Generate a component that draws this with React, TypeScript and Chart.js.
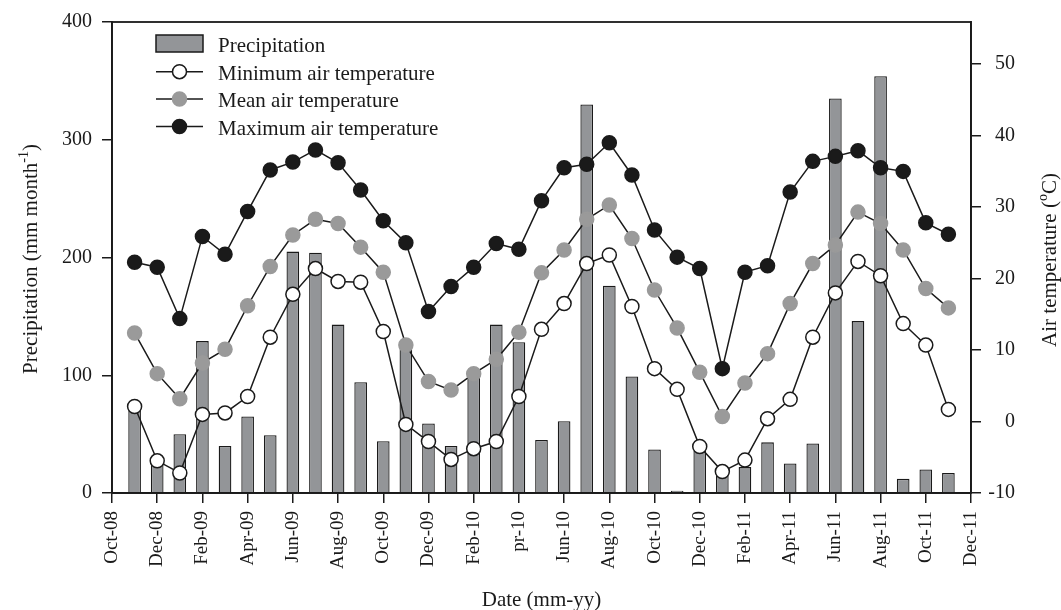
import React, { useEffect, useRef } from "react";
import { Chart, registerables } from "chart.js";

Chart.register(...registerables);

// Monthly data, Nov-08 .. Nov-11 (x position = month index, Oct-08 = 0)
const months = [
  "Nov-08", "Dec-08", "Jan-09", "Feb-09", "Mar-09", "Apr-09", "May-09", "Jun-09", "Jul-09", "Aug-09", "Sep-09", "Oct-09",
  "Nov-09", "Dec-09", "Jan-10", "Feb-10", "Mar-10", "Apr-10", "May-10", "Jun-10", "Jul-10", "Aug-10", "Sep-10", "Oct-10",
  "Nov-10", "Dec-10", "Jan-11", "Feb-11", "Mar-11", "Apr-11", "May-11", "Jun-11", "Jul-11", "Aug-11", "Sep-11", "Oct-11",
  "Nov-11",
];

const xTickLabels = [
  "Oct-08", "Dec-08", "Feb-09", "Apr-09", "Jun-09", "Aug-09", "Oct-09", "Dec-09", "Feb-10", "pr-10",
  "Jun-10", "Aug-10", "Oct-10", "Dec-10", "Feb-11", "Apr-11", "Jun-11", "Aug-11", "Oct-11", "Dec-11",
];

const precipitation = [
  73, 25, 50, 129, 40, 65, 49, 205, 204, 143, 94, 44,
  125, 59, 40, 101, 143, 128, 45, 61, 330, 176, 99, 37,
  2, 36, 22, 22, 43, 25, 42, 335, 146, 354, 12, 20, 17,
];

const minTemp = [
  2.1, -5.5, -7.2, 1.0, 1.2, 3.5, 11.8, 17.8, 21.4, 19.6, 19.5, 12.6,
  -0.4, -2.8, -5.3, -3.8, -2.8, 3.5, 12.9, 16.5, 22.1, 23.3, 16.1, 7.4,
  4.5, -3.5, -7.0, -5.4, 0.4, 3.1, 11.8, 18.0, 22.4, 20.4, 13.7, 10.7, 1.7,
];

const meanTemp = [
  12.4, 6.7, 3.2, 8.2, 10.1, 16.2, 21.7, 26.1, 28.3, 27.7, 24.4, 20.9,
  10.7, 5.6, 4.4, 6.7, 8.7, 12.5, 20.8, 24.0, 28.3, 30.3, 25.6, 18.4,
  13.1, 6.9, 0.7, 5.4, 9.5, 16.5, 22.1, 24.7, 29.3, 27.7, 24.0, 18.6, 15.9,
];

const maxTemp = [
  22.3, 21.6, 14.4, 25.9, 23.4, 29.4, 35.2, 36.3, 38.0, 36.2, 32.4, 28.1,
  25.0, 15.4, 18.9, 21.6, 24.9, 24.1, 30.9, 35.5, 36.0, 39.0, 34.5, 26.8,
  23.0, 21.4, 7.4, 20.9, 21.8, 32.1, 36.4, 37.1, 37.9, 35.5, 35.0, 27.8, 26.2,
];

const FONT = "'Liberation Serif', 'Times New Roman', serif";
const INK = "#1a1a1a";
const BAR_GRAY = "#939598";
const DOT_GRAY = "#9a9a9a";

type Part = { text: string; sup?: boolean };

function drawParts(ctx: CanvasRenderingContext2D, parts: Part[], size: number) {
  const supSize = Math.round(size * 0.65);
  let total = 0;
  const widths = parts.map((p) => {
    ctx.font = `${p.sup ? supSize : size}px ${FONT}`;
    const w = ctx.measureText(p.text).width;
    total += w;
    return w;
  });
  let x = -total / 2;
  parts.forEach((p, i) => {
    ctx.font = `${p.sup ? supSize : size}px ${FONT}`;
    ctx.fillText(p.text, x, p.sup ? -size * 0.42 : 0);
    x += widths[i];
  });
}

export default function App() {
  const ref = useRef<HTMLCanvasElement>(null);

  useEffect(() => {
    if (!ref.current) return;
    const pts = (arr: number[]) => arr.map((v, i) => ({ x: months.indexOf(months[i]) + 1, y: v }));

    const decor = {
      id: "decor",
      afterDraw(chart: any) {
        const { ctx, chartArea: a } = chart;
        ctx.save();
        // frame
        ctx.strokeStyle = INK;
        ctx.lineWidth = 1.8;
        ctx.strokeRect(a.left, a.top, a.right - a.left, a.bottom - a.top);

        ctx.fillStyle = INK;
        ctx.textAlign = "left";
        ctx.textBaseline = "alphabetic";
        // left title
        ctx.save();
        ctx.translate(36.5, (a.top + a.bottom) / 2 + 1.5);
        ctx.rotate(-Math.PI / 2);
        drawParts(ctx, [
          { text: "Precipitation (mm month" },
          { text: "-1", sup: true },
          { text: ")" },
        ], 21);
        ctx.restore();
        // right title
        ctx.save();
        ctx.translate(1055.5, (a.top + a.bottom) / 2 + 2.5);
        ctx.rotate(-Math.PI / 2);
        drawParts(ctx, [
          { text: "Air temperature (" },
          { text: "o", sup: true },
          { text: "C)" },
        ], 21);
        ctx.restore();
        // x title
        ctx.save();
        ctx.translate((a.left + a.right) / 2, 606);
        drawParts(ctx, [{ text: "Date (mm-yy)" }], 21);
        ctx.restore();

        // legend
        const rows = [43.5, 71.7, 99, 126.5];
        const x0 = 156, x1 = 203, xc = (x0 + x1) / 2, tx = 218;
        chart.data.datasets.forEach((ds: any, i: number) => {
          const y = rows[i];
          if (ds.type === "bar") {
            ctx.fillStyle = ds.backgroundColor;
            ctx.fillRect(x0, y - 8.5, x1 - x0, 17);
            ctx.strokeStyle = ds.borderColor;
            ctx.lineWidth = 1.5;
            ctx.strokeRect(x0, y - 8.5, x1 - x0, 17);
          } else {
            ctx.strokeStyle = ds.borderColor;
            ctx.lineWidth = ds.borderWidth;
            ctx.beginPath();
            ctx.moveTo(x0, y);
            ctx.lineTo(x1, y);
            ctx.stroke();
            ctx.beginPath();
            ctx.arc(xc, y, ds.pointRadius, 0, Math.PI * 2);
            ctx.fillStyle = ds.pointBackgroundColor;
            ctx.fill();
            ctx.strokeStyle = ds.pointBorderColor;
            ctx.lineWidth = ds.pointBorderWidth;
            ctx.stroke();
          }
          ctx.fillStyle = INK;
          ctx.font = `21px ${FONT}`;
          ctx.textAlign = "left";
          ctx.fillText(ds.label, tx, y + 8.3);
        });
        ctx.restore();
      },
    };

    const lineDs = (label: string, data: number[], fill: string, stroke: string, order: number) => ({
      type: "line" as const,
      label,
      data: pts(data),
      yAxisID: "y2",
      borderColor: INK,
      borderWidth: 1.5,
      pointRadius: 7,
      pointBorderWidth: 1.5,
      pointBackgroundColor: fill,
      pointBorderColor: stroke,
      pointHoverRadius: 7,
      tension: 0,
      order,
    });

    const chart = new Chart(ref.current, {
      type: "bar",
      data: {
        datasets: [
          {
            type: "bar",
            label: "Precipitation",
            data: pts(precipitation),
            yAxisID: "y",
            backgroundColor: BAR_GRAY,
            borderColor: INK,
            borderWidth: 1.3,
            barPercentage: 0.56,
            categoryPercentage: 1,
            order: 10,
          } as any,
          lineDs("Minimum air temperature", minTemp, "#ffffff", INK, 1),
          lineDs("Mean air temperature", meanTemp, DOT_GRAY, DOT_GRAY, 2),
          lineDs("Maximum air temperature", maxTemp, INK, INK, 3),
        ],
      },
      options: {
        animation: false,
        responsive: true,
        maintainAspectRatio: false,
        layout: { padding: { top: 22, right: 46, left: 0, bottom: 0 } },
        plugins: { legend: { display: false }, tooltip: { enabled: false } },
        events: [],
        scales: {
          x: {
            type: "linear",
            min: 0,
            max: 38,
            offset: false,
            grid: { drawOnChartArea: false, offset: false, tickLength: 10, color: INK, lineWidth: 1.5 },
            border: { color: INK, width: 1.8 },
            ticks: {
              stepSize: 2,
              autoSkip: false,
              minRotation: 90,
              maxRotation: 90,
              padding: 8,
              color: INK,
              font: { family: FONT, size: 19 },
              callback: (v: any) => xTickLabels[Math.round(Number(v) / 2)] ?? "",
            },
            afterFit: (s: any) => { s.height = 117; },
          },
          y: {
            position: "left",
            min: 0,
            max: 400,
            grid: { drawOnChartArea: false, tickLength: 10, color: INK, lineWidth: 1.5 },
            border: { color: INK, width: 1.8 },
            ticks: { stepSize: 100, padding: 10, color: INK, font: { family: FONT, size: 20 } },
            afterFit: (s: any) => { s.width = 112; },
          },
          y2: {
            position: "right",
            min: -10,
            max: 55.9,
            grid: { drawOnChartArea: false, tickLength: 10, color: INK, lineWidth: 1.5 },
            border: { color: INK, width: 1.8 },
            ticks: {
              stepSize: 10,
              includeBounds: false,
              crossAlign: "far",
              color: INK,
              font: { family: FONT, size: 20 },
            },
            afterFit: (s: any) => { s.width = 44; },
          },
        },
      } as any,
      plugins: [decor],
    });
    return () => chart.destroy();
  }, []);

  return (
    <div style={{ position: "fixed", left: 0, top: 0, width: 1061, height: 610, background: "#fff" }}>
      <canvas ref={ref} />
    </div>
  );
}
